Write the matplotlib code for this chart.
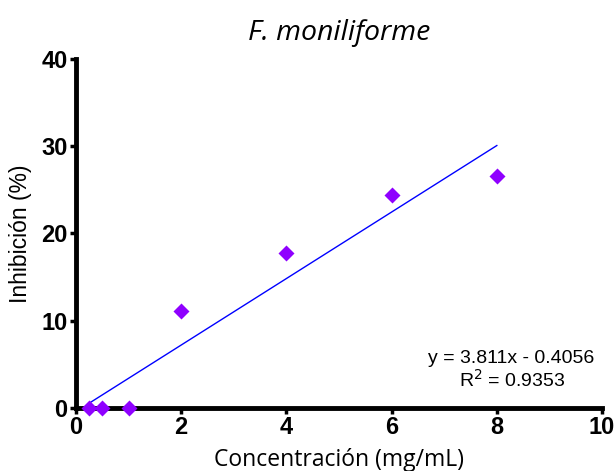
import matplotlib.pyplot as plt

# datos
conc = [0.25, 0.5, 1, 2, 4, 6, 8]
inhib = [0, 0, 0, 11.1, 17.8, 24.4, 26.6]
slope = 3.811
intercept = -0.4056
r2 = 0.9353
x_ticks = [0, 2, 4, 6, 8, 10]
y_ticks = [0, 10, 20, 30, 40]

fig = plt.figure(figsize=(6.15, 4.71), dpi=100)
ax = fig.add_axes([0.1236, 0.1338, 0.8553, 0.7409])

fit_x = [conc[0], conc[-1]]
fit_y = [slope * x + intercept for x in fit_x]
ax.plot(fit_x, fit_y, color='#0000ff', lw=1)
ax.plot(conc, inhib, 'D', color='#8f00ff', ms=8, mec='none', clip_on=False, zorder=5)

ax.set_xlim(0, 10)
ax.set_ylim(0, 40)
ax.set_xticks(x_ticks)
ax.set_yticks(y_ticks)
for s in ['top', 'right']:
    ax.spines[s].set_visible(False)
for s in ['left', 'bottom']:
    ax.spines[s].set_linewidth(3.5)
ax.tick_params(width=2.5, length=4, labelsize=17, pad=2)
for lbl in ax.get_xticklabels() + ax.get_yticklabels():
    lbl.set_fontweight('bold')
    lbl.set_family('Liberation Sans')

ax.set_xlabel('Concentración (mg/mL)', family='Open Sans', fontsize=16.5, labelpad=6)
ax.set_ylabel('Inhibición (%)', family='Liberation Sans', fontsize=16.5, labelpad=7)
ax.set_title('F. moniliforme', family='Open Sans', style='italic', fontsize=20.5, pad=14)

ax.text(0.985, 0.128, f'y = {slope}x - {abs(intercept)}', transform=ax.transAxes,
        ha='right', fontsize=14, family='Liberation Sans')
ax.text(0.93, 0.062, f'R$^2$ = {r2}', transform=ax.transAxes,
        ha='right', fontsize=14, family='Liberation Sans')

fig.savefig('out.png', dpi=100)
